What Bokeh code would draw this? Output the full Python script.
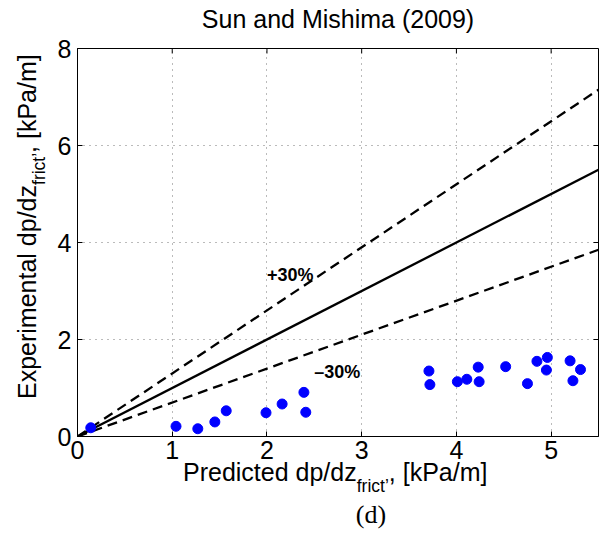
import math
from bokeh.plotting import figure
from bokeh.models import Label, FixedTicker, Range1d, Div
from bokeh.layouts import column, row
from bokeh.embed import file_html
from bokeh.resources import INLINE

# ---- data ----
predicted = [0.14, 1.04, 1.27, 1.45, 1.57, 1.99, 2.16, 2.39, 2.41,
             3.71, 3.72, 4.01, 4.11, 4.23, 4.24, 4.52, 4.75, 4.85,
             4.96, 4.95, 5.20, 5.31, 5.23]
experimental = [0.18, 0.21, 0.16, 0.30, 0.53, 0.49, 0.67, 0.91, 0.50,
                1.35, 1.07, 1.13, 1.18, 1.43, 1.13, 1.44, 1.09, 1.55,
                1.63, 1.37, 1.56, 1.38, 1.15]
x_ticks = [0, 1, 2, 3, 4, 5]
y_ticks = [0, 2, 4, 6, 8]
x_max = 5.5
y_max = 8
ref_line_x = [0, x_max]
band = 0.30
band_labels = ["+30%", "\u201330%"]
band_label_x = [2.0, 2.5]
band_label_y = [3.34, 1.32]
title_text = "Sun and Mishima (2009)"
caption_text = "(d)"

FONT = "Liberation Sans"

p = figure(width=555, height=437, output_backend="svg", toolbar_location=None,
           x_range=Range1d(0, x_max), y_range=Range1d(0, y_max),
           min_border_left=25, min_border_right=9, min_border_top=15,
           min_border_bottom=34)
p.background_fill_color = "white"
p.border_fill_color = "white"
p.outline_line_color = "black"
p.outline_line_width = 1

for ax, ticks in ((p.xaxis, x_ticks), (p.yaxis, y_ticks)):
    ax.ticker = FixedTicker(ticks=ticks)
    ax.major_tick_in = 5
    ax.major_tick_out = 0
    ax.minor_tick_line_color = None
    ax.axis_line_color = "black"
    ax.major_tick_line_color = "black"
    ax.major_label_text_font = FONT
    ax.major_label_text_font_size = "25px"
    ax.major_label_text_color = "black"
p.xaxis.major_label_standoff = 4
p.yaxis.major_label_standoff = 6

p.xgrid.ticker = FixedTicker(ticks=x_ticks)
p.ygrid.ticker = FixedTicker(ticks=y_ticks)
for g in (p.xgrid, p.ygrid):
    g.grid_line_color = "#777777"
    g.grid_line_dash = "1 5"
    g.grid_line_width = 1

# mirrored inward ticks on top and right borders
p.ray(x=x_ticks, y=[y_max] * len(x_ticks), length=5, length_units="screen",
      angle=-math.pi / 2, line_color="black", line_width=1)
p.ray(x=[x_max] * len(y_ticks), y=y_ticks, length=5, length_units="screen",
      angle=math.pi, line_color="black", line_width=1)

# reference lines
p.line(ref_line_x, [v * (1 + band) for v in ref_line_x], line_color="black",
       line_width=2.3, line_dash="10 6")
p.line(ref_line_x, [v * (1 - band) for v in ref_line_x], line_color="black",
       line_width=2.3, line_dash="10 6")
p.line(ref_line_x, ref_line_x, line_color="black", line_width=2.3)

# data
p.scatter(predicted, experimental, size=10, color="#0000ff", line_color="#0000ff")

for t, lx, ly in zip(band_labels, band_label_x, band_label_y):
    p.add_layout(Label(x=lx, y=ly, text=t, text_font=FONT, text_font_style="bold",
                       text_font_size="18px", text_align="left",
                       text_baseline="alphabetic", text_color="black"))

SANS = "font-family:'Liberation Sans',Arial,sans-serif;color:black;"

title_html = (
    '<div style="position:relative;width:607px;height:33px;">'
    '<div style="position:absolute;left:69px;top:7px;width:538px;text-align:center;'
    'white-space:nowrap;font-size:25px;line-height:25px;' + SANS + '">'
    + title_text + '</div></div>')

ylab_html = (
    '<div style="position:relative;width:52px;height:437px;">'
    '<div style="position:absolute;left:15px;top:366px;transform-origin:0 0;'
    'transform:rotate(-90deg);white-space:nowrap;font-size:25px;line-height:25px;'
    + SANS + '">Experimental dp/dz<span style="font-size:17.5px;position:relative;'
    'top:9px;">frict\u2019</span>, [kPa/m]</div></div>')

xlab_html = (
    '<div style="position:relative;width:607px;height:82px;">'
    '<div style="position:absolute;left:183px;top:-10px;white-space:nowrap;'
    'font-size:25px;line-height:25px;' + SANS + '">Predicted dp/dz'
    '<span style="font-size:17.5px;position:relative;top:11px;">frict\u2019</span>'
    ', [kPa/m]</div>'
    '<div style="position:absolute;left:135px;top:32px;width:472px;text-align:center;'
    "white-space:nowrap;font-family:'Liberation Serif',serif;font-size:26px;"
    'line-height:26px;color:black;">' + caption_text + '</div></div>')

title_div = Div(text=title_html, width=607, height=33, margin=(0, 0, 0, 0))
ylab_div = Div(text=ylab_html, width=52, height=437, margin=(0, 0, 0, 0))
xlab_div = Div(text=xlab_html, width=607, height=82, margin=(0, 0, 0, 0))

layout = column(title_div, row(ylab_div, p, spacing=0), xlab_div, spacing=0)

open("out.html", "w").write(file_html(layout, INLINE))
